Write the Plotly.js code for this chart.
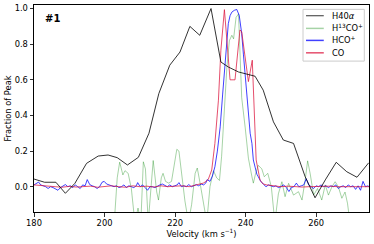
<!DOCTYPE html>
<html>
<head>
<meta charset="utf-8">
<script src="https://cdn.plot.ly/plotly-3.0.1.min.js"></script>
<style>html,body{margin:0;padding:0;background:#fff;}#chart{width:374px;height:244px;}</style>
</head>
<body>
<div id="chart"></div>
<script>
// H40alpha recombination line
const h40Vel = [180, 183, 186.2, 188.9, 191.6, 194.9, 198.2, 201, 203.6, 206.5, 209.6, 212.6, 215.4, 218.5, 221.4, 224.2, 227, 230.2, 233, 235.1, 238, 240.8, 242.7, 245, 247.9, 250.7, 253.6, 256.9, 259.7, 262.6, 265.7, 268.7, 271.6, 274.9];
const h40Frac = [0.043, 0.025, 0.025, -0.037, 0.019, 0.131, 0.172, 0.178, 0.163, 0.122, 0.165, 0.30, 0.523, 0.682, 0.756, 0.90, 0.85, 1.0, 0.70, 0.672, 0.644, 0.631, 0.62, 0.542, 0.364, 0.262, 0.243, 0.056, -0.062, 0.038, 0.137, 0.084, 0.053, 0.134];

// H13CO+
const h13coVel = [202.6, 203.6, 204.3, 205.2, 205.8, 206.7, 207.6, 208.6, 209.5, 210.3, 211.0, 211.6, 212.4, 213.2, 213.8, 214.8, 215.3, 216.1, 216.6, 217.3, 218.2, 219.0, 219.8, 220.5, 221.1, 221.9, 222.8, 223.8, 224.7, 225.7, 226.3, 227.1, 228.1, 229.0, 229.9, 230.9, 231.8, 232.6, 233.2, 233.9, 234.7, 235.4, 236.1, 236.6, 237.3, 238.0, 238.4, 238.9, 239.9, 240.8, 241.8, 242.2, 242.8, 243.6, 244.6, 245.3, 246.3, 247.3, 248.3, 249.3, 250.3, 251.2, 252.2, 253.6, 255.0, 256.0, 256.9, 257.6, 258.3, 259.3, 260.4, 261.6, 262.6, 263.5, 264.5, 265.4, 266.3, 267.3, 268.2, 268.9, 269.6];
const h13coFrac = [-0.25, 0.05, 0.138, 0.066, 0.09, 0.075, -0.01, -0.2, -0.12, -0.2, 0.14, 0.1, -0.2, 0.0, 0.147, -0.03, -0.075, 0.05, 0.075, 0.03, 0.02, 0.03, 0.12, 0.21, 0.2, 0.05, -0.08, -0.2, -0.1, 0.075, 0.105, 0.02, -0.08, -0.2, 0.0, 0.09, 0.05, 0.035, 0.17, 0.39, 0.67, 0.82, 0.85, 0.83, 0.95, 0.97, 0.75, 0.5, 0.33, 0.16, 0.056, 0.02, 0.07, 0.12, 0.10, 0.056, 0.075, 0.0, -0.2, -0.04, 0.028, -0.056, 0.019, -0.047, -0.028, -0.075, 0.037, 0.145, 0.075, -0.047, -0.01, -0.075, 0.01, -0.047, 0.0, 0.028, 0.0, -0.065, -0.03, -0.093, -0.2];

// HCO+
const hcoVel = [180, 180.6, 181.3, 181.9, 182.6, 183.3, 184.0, 184.7, 185.4, 186.1, 186.8, 187.5, 188.2, 188.9, 189.6, 190.3, 191.0, 191.7, 192.4, 193.1, 193.8, 194.5, 195.1, 195.8, 196.5, 197.2, 197.9, 198.6, 199.3, 199.9, 200.6, 201.3, 202.0, 202.7, 203.4, 204.1, 204.8, 205.5, 206.2, 206.9, 207.6, 208.3, 209.0, 209.4, 210.1, 210.8, 211.5, 212.2, 212.9, 213.6, 214.3, 215.0, 215.7, 216.4, 217.1, 217.8, 218.5, 219.2, 219.9, 220.6, 221.1, 221.8, 222.5, 223.2, 223.9, 224.6, 225.3, 226.0, 226.7, 227.4, 228.1, 228.7, 229.1, 229.9, 230.6, 231.3, 232.0, 232.8, 233.5, 234.2, 234.7, 235.1, 235.6, 236.1, 236.8, 237.5, 238.2, 238.9, 239.4, 239.9, 240.4, 240.8, 241.3, 241.8, 242.2, 242.7, 243.2, 243.6, 244.3, 245.1, 245.8, 246.5, 247.2, 247.9, 248.6, 249.3, 250.0, 250.7, 251.4, 252.3, 253.0, 253.7, 254.4, 255.1, 255.8, 256.5, 257.2, 257.9, 258.6, 259.3, 260.0, 260.7, 261.4, 262.1, 262.8, 263.5, 264.2, 264.9, 265.6, 266.3, 267.0, 267.7, 268.4, 269.1, 269.8, 270.5, 271.2, 271.9, 272.6, 273.3, 274.0, 274.7, 275.0];
const hcoFrac = [0.01, 0.017, 0.026, 0.01, 0.005, 0.0, -0.01, 0.0, -0.005, -0.012, -0.02, -0.005, 0.005, 0.012, 0.0, 0.005, -0.005, 0.01, 0.0, -0.01, 0.01, 0.005, 0.04, 0.012, 0.005, 0.0, -0.01, 0.0, 0.025, 0.03, 0.015, 0.01, 0.005, 0.0, 0.005, -0.005, 0.0, 0.01, -0.005, 0.005, 0.0, -0.005, 0.005, 0.023, 0.0, 0.01, -0.005, -0.02, 0.0, 0.0, -0.005, 0.005, 0.01, 0.015, 0.005, 0.0, 0.01, 0.0, 0.005, 0.01, 0.023, 0.0, 0.005, 0.0, 0.012, 0.0, 0.005, 0.012, 0.005, 0.015, 0.01, 0.02, 0.04, 0.03, 0.06, 0.112, 0.2, 0.336, 0.52, 0.71, 0.84, 0.915, 0.96, 0.98, 0.99, 0.995, 0.962, 0.86, 0.74, 0.616, 0.5, 0.41, 0.3, 0.243, 0.15, 0.11, 0.07, 0.056, 0.03, 0.013, 0.0, 0.01, 0.005, 0.0, 0.005, -0.005, 0.0, 0.01, 0.0, -0.027, -0.005, 0.0, 0.02, 0.0, 0.005, 0.01, 0.045, 0.01, 0.0, -0.01, 0.005, 0.0, 0.01, 0.0, 0.005, -0.005, 0.005, 0.0, 0.01, -0.01, 0.0, 0.005, -0.005, 0.01, 0.0, 0.005, -0.015, 0.005, -0.02, 0.03, 0.0, 0.005, 0.0];

// CO
const coVel = [180, 182, 184, 186, 188, 190, 192, 194, 196, 198, 200, 202, 204, 206, 208, 210, 212, 214, 216, 218, 220, 222, 224, 225, 226, 227, 228, 228.8, 229.4, 230.4, 231.3, 232.3, 233.0, 234.0, 235.6, 237.0, 238.4, 238.9, 240.8, 241.9, 243.0, 244.1, 245, 246, 248, 250, 252, 254, 256, 258, 260, 262, 264, 266, 268, 270, 272, 275];
const coFrac = [0.01, 0.008, 0.003, 0.0, -0.003, 0.002, -0.002, 0.0, 0.003, -0.003, 0.0, 0.005, 0.0, -0.003, 0.005, 0.0, 0.003, -0.002, 0.005, 0.0, 0.003, 0.005, 0.0, 0.005, 0.01, 0.012, 0.02, 0.03, 0.04, 0.094, 0.243, 0.486, 0.766, 0.994, 0.60, 0.60, 0.88, 0.87, 0.59, 0.71, 0.15, 0.037, 0.015, 0.01, 0.005, 0.0, 0.003, 0.0, -0.002, 0.0, 0.002, 0.0, 0.003, 0.0, 0.002, 0.0, 0.0, 0.0];

const seriesNames = ['H40<i>α</i>', 'H<sup>13</sup>CO<sup>+</sup>', 'HCO<sup>+</sup>', 'CO'];
const seriesColors = ['rgba(0,0,0,0.8)', 'rgba(0,128,0,0.35)', 'rgba(0,0,255,0.75)', 'rgba(220,20,60,0.75)'];
const xTicks = [180, 200, 220, 240, 260];
const yTicks = [0.0, 0.2, 0.4, 0.6, 0.8, 1.0];

const FONT = 'DejaVu Sans, sans-serif';
const xs = [h40Vel, h13coVel, hcoVel, coVel];
const ys = [h40Frac, h13coFrac, hcoFrac, coFrac];
const traces = [1, 2, 3, 0].map(i => ({
  x: xs[i], y: ys[i], type: 'scatter', mode: 'lines', name: seriesNames[i],
  line: {color: seriesColors[i], width: 1}, showlegend: false, hoverinfo: 'skip'
}));

// custom compact legend (matplotlib style)
const legRows = [0.948, 0.887, 0.829, 0.769];
const shapes = [{
  type: 'rect', xref: 'paper', yref: 'paper', x0: 0.803, x1: 0.986, y0: 0.729, y1: 0.979,
  line: {color: '#cccccc', width: 1}, fillcolor: 'rgba(255,255,255,0.85)', layer: 'above'
}];
const annotations = [{
  text: '<b>#1</b>', xref: 'paper', yref: 'paper', x: 0.027, y: 0.937,
  xanchor: 'left', yanchor: 'middle', showarrow: false, font: {family: FONT, size: 10, color: '#000'}
}];
seriesNames.forEach((n, i) => {
  shapes.push({type: 'line', xref: 'paper', yref: 'paper', x0: 0.812, x1: 0.865, y0: legRows[i], y1: legRows[i],
    line: {color: seriesColors[i], width: i === 0 ? 1 : 1.5}, layer: 'above'});
  annotations.push({text: n, xref: 'paper', yref: 'paper', x: 0.883, y: legRows[i], xanchor: 'left', yanchor: 'middle',
    showarrow: false, font: {family: FONT, size: 8.3, color: '#000'}});
});

const layout = {
  width: 374, height: 244,
  margin: {l: 34, r: 5, t: 5, b: 32},
  paper_bgcolor: '#fff', plot_bgcolor: '#fff',
  font: {family: FONT, size: 8.3, color: '#000'},
  showlegend: false,
  xaxis: {
    range: [180, 275], tickvals: xTicks, ticktext: xTicks.map(String),
    ticks: 'outside', ticklen: 3.5, tickwidth: 0.8, tickcolor: '#000',
    showline: true, linecolor: '#000', linewidth: 1, mirror: true,
    showgrid: false, zeroline: false,
    title: {text: 'Velocity (km s<sup>−1</sup>)', font: {family: FONT, size: 8.3}, standoff: 2}
  },
  yaxis: {
    range: [-0.142, 1.02], tickvals: yTicks, ticktext: yTicks.map(v => v.toFixed(1)),
    ticks: 'outside', ticklen: 3.5, tickwidth: 0.8, tickcolor: '#000',
    showline: true, linecolor: '#000', linewidth: 1, mirror: true,
    showgrid: false, zeroline: false,
    title: {text: 'Fraction of Peak', font: {family: FONT, size: 8.3}, standoff: 1}
  },
  shapes: shapes,
  annotations: annotations
};

Plotly.newPlot('chart', traces, layout, {displayModeBar: false, staticPlot: true});
</script>
</body>
</html>
